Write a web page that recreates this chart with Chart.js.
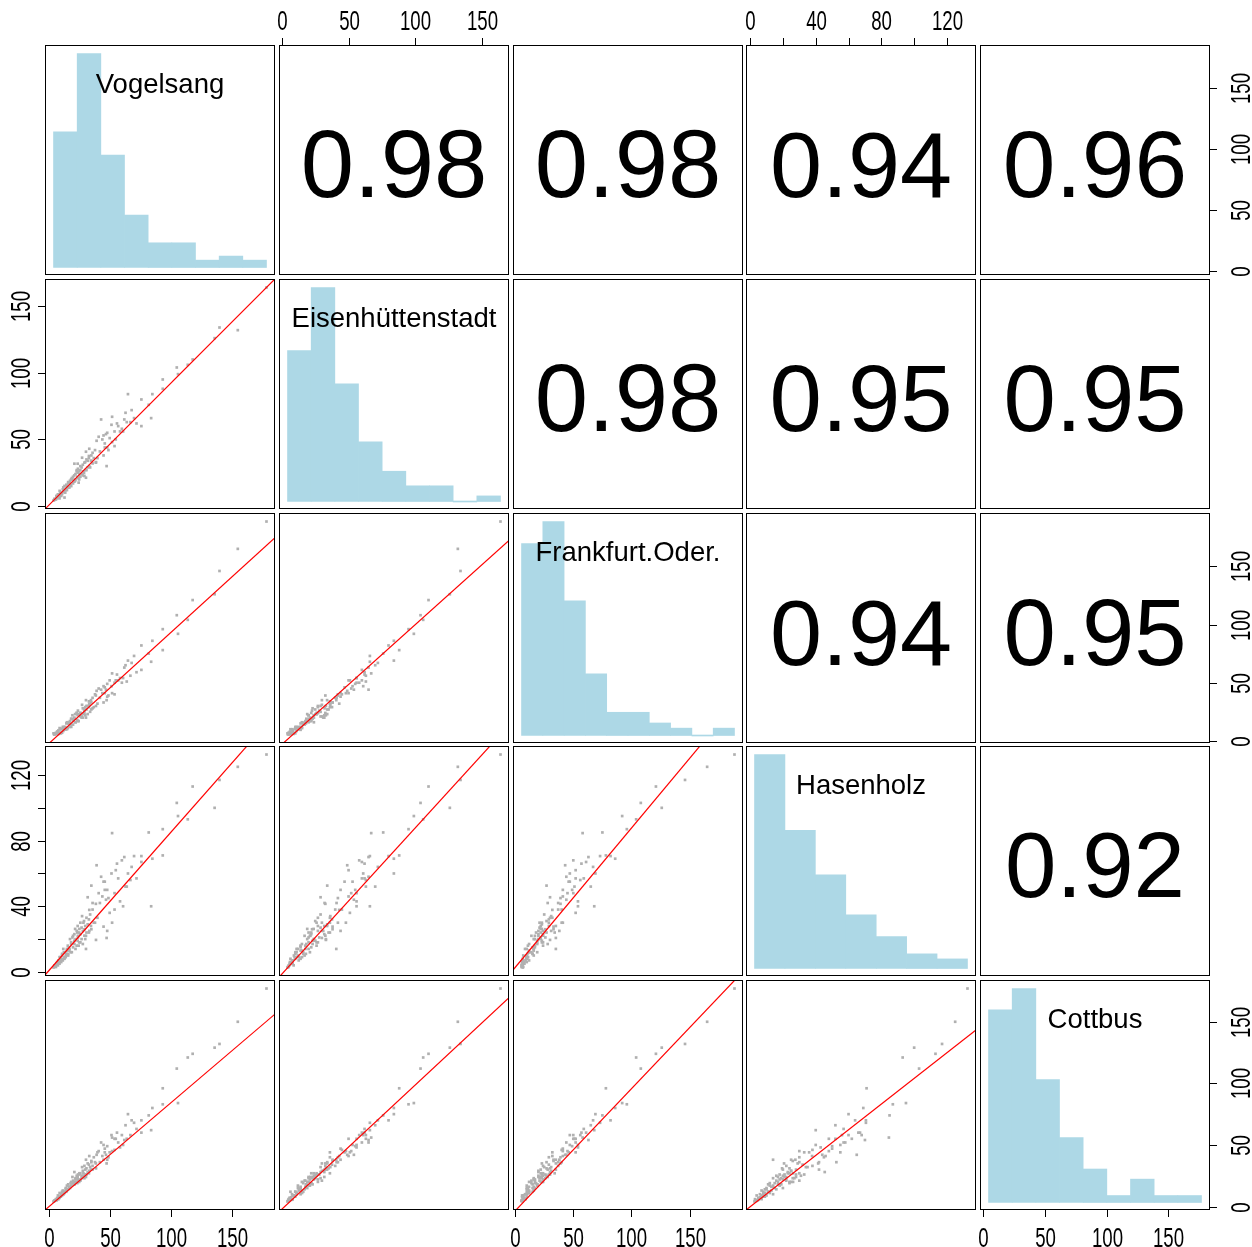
<!DOCTYPE html>
<html><head><meta charset="utf-8">
<script src="https://cdn.jsdelivr.net/npm/chart.js@4.4.1/dist/chart.umd.min.js"></script>
<style>
html,body{margin:0;padding:0;background:#fff;overflow:hidden;width:1252px;height:1247px;}
#wrap{position:relative;width:1252px;height:1247px;overflow:hidden;}
canvas{position:absolute;}
</style></head><body><div id="wrap"></div>
<script>
// ---------------- data ----------------
const variableNames = ["Vogelsang", "Eisenhüttenstadt", "Frankfurt.Oder.", "Hasenholz", "Cottbus"];

const vogelsang = [178.5,155,140,136,118,114,105,106,
  93.5,93.5,85,84,82,76,76,70,67,65,64,62,61,
  58.5,57,54,54,52,51.5,50,49,48,47.5,47,46,46,45,45,43,42,41,
  39.3,38.8,38.7,37,36,35,34.7,33.3,33.3,33,32,31,30.6,30.6,30,29.3,29.3,28.5,27.4,27,26,25.2,25,24.6,24,23.8,23.8,23.5,23,22,21.7,21.1,21.1,20,19.5,
  18.4,18,17.1,16.5,16,15.7,15,14,13.6,13,13,12,11.6,11,10.3,10,9,8.9,8,7.6,7,6.3,6,5,4.5,4,
  44,40,38,36,35,34,33,32,31,30,29,28,28,27,26,26,25,24,23,22,21,20,19,18.5,17.5,17,16,15,14.5,14,12.5,12,11,10,9.5,8.5,7.5,6.5,5.5,4.8,
  55,60,63,72,68,52,56,48];
const eisenhuettenstadt = [164,132,134,126,110,106,104,99,
  95,88,84,66,76,80,60,66,63,84,63,65,56,
  56,60,56,45,67,61,51,42,55,30,54,44,47,38,53,65,41,52,
  49,33,32.6,36,40,34,33.9,43,30,37.6,29,35,40.8,21.3,27,32.6,22.6,26,36.3,24,27,23.8,20,17.6,28,31.8,25.1,22,26,24,19,31.8,18.3,22,20,
  20,16,17.6,14,18,13.9,15,12,10.1,15.1,6.4,11,12.6,9,7.6,10,11.4,5.8,8,8.8,6,7.6,5,5.5,4.5,4.2,
  50,36,42,32,38,29,36,34,27,33,25,31,23,29,22,30,26,21,27,20,23,17,21,15,19,14,17,12,16,13,11,14,10,8,9.5,7,8,6,5,5.2,
  50,58,70,62,72,48,62,44];
const frankfurtOder = [188.5,165,146,126,121,104,108,92,
  96,78,86,68,75,82,61,73,56,69,51,63,54,
  54,52,50,40,58,47,52,39,49,35,44,41,46,33,47,44,37,45,
  43,30,39,29,37,27,35,32,31,29,30,27,35,20,29,24,26,23,31,20,24,22,22,17,26,22,23,18,24,16,23,20,19,17,22,
  19,14,16,15,15,11,16,10,12,11,10,8.5,12,7,10,6.5,11,7,9,6,8,6.5,7,6,5.5,6.5,
  41,32,40,28,33,25,34,23,30,22,27,20,28,21,24,21,23,17,24,16,19,14,19,12,17,12,16,10,15,10,12,9.5,10.5,7,10,6,8,5.8,6.5,5.6,
  52,50,65,59,67,41,57,38];
const hasenholz = [132.5,125,117,100,113,93,103,95,
  87,71,69,40,85,70.6,67,70.6,56,60,52,70,40,
  43,57,48,38,84.6,60,36,45,50,20.7,44,50,55,27.6,55,58,42,48,
  65,19.5,41.5,30,38,52.6,28,37.8,25,32,45.5,24,14,22,28,22.1,26,30,34,20,18,26.2,24,16,21,28,19,24,16,20,26.2,23,17,15,21,
  18,12,14,15,11,16,13,10,12,9,8,14,7,10,6,8,9,5,7,4,6,5,3,4,3,2.7,
  46,33,30,42,26,35,24,29,33,20,31,25,17,27,23,30,18,22,25,14,19,22,12,17,20,13,10,14,11,9,12,8,11,7,9,6,5,4.5,3.5,4,
  62,68,52,57,64,30,66,25];
const cottbus = [177,150,132,129,124,121,112,84,
  83,96,80,62,74,70,60,68,58,75,55,54,50,
  48,52,55,46,56,58,44,40,49,35,42,47,44,38,50,52,36,45,
  42,31,35,40,33,36,30,41,29,34,28,31,38,24,26,33,23,27,32,25,22,27,20,21,26,24,23,19,25,22,20,28,18,19,24,
  17,19,16,15,18,14,13,15,12,11,12,10,13,9,10,8,11,7,6,9,7,5.5,6,5,4.5,4.1,
  41,44,36,30,37,32,27,35,26,30,25,29,24,23,27,21,26,22,20,23,18,21,17,20,15,16,14,17,12,14,11,10,12,9,8,7.5,6,5,5.2,4.6,
  55,58,66,63,70,45,60,38];

// histogram bar heights (bins span each variable's range)
const histVogelsang = [36.8, 58, 30.5, 14.2, 6.7, 6.7, 2, 3.1, 2];
const histEisenhuettenstadt = [53.8, 76.3, 42, 21.3, 10.8, 5.6, 5.6, 0, 2];
const histFrankfurtOder = [52, 58, 36.5, 16.7, 6.3, 6.3, 3.4, 2, 0, 2];
const histHasenholz = [89, 57.5, 39, 22.3, 13.3, 6.1, 4];
const histCottbus = [55.2, 61.3, 35.2, 18.6, 9.6, 2, 6.7, 2, 2];

// correlations (upper panels), row by row
const corVogelsang = [0.98, 0.98, 0.94, 0.96];
const corEisenhuettenstadt = [0.98, 0.95, 0.95];
const corFrankfurtOder = [0.94, 0.95];
const corHasenholz = [0.92];

// fitted lines (lower panels): [intercept, slope] against each earlier variable
const fitEisenhuettenstadt = [[0.54, 0.916]];
const fitFrankfurtOder = [[-2.46, 0.955], [-3.0, 1.029]];
const fitHasenholz = [[0.63, 0.8435], [-1.27, 0.89], [2.7, 0.85]];
const fitCottbus = [[-0.3, 0.844], [-2.1, 1.007], [-3.57, 0.9925], [-0.23, 1.042]];

// axis ticks
const ticksVogelsang = [0, 50, 100, 150];
const ticksEisenhuettenstadt = [0, 50, 100, 150];
const ticksFrankfurtOder = [0, 50, 100, 150];
const ticksHasenholz = [0, 20, 40, 60, 80, 100, 120];
const ticksCottbus = [0, 50, 100, 150];
const tickLabelsVogelsang = ["0", "50", "100", "150"];
const tickLabelsEisenhuettenstadt = ["0", "50", "100", "150"];
const tickLabelsFrankfurtOder = ["0", "50", "100", "150"];
const tickLabelsHasenholz = ["0", "", "40", "", "80", "", "120"];
const tickLabelsCottbus = ["0", "50", "100", "150"];

// ---------------- assembly ----------------
const vars = [vogelsang, eisenhuettenstadt, frankfurtOder, hasenholz, cottbus];
const hists = [histVogelsang, histEisenhuettenstadt, histFrankfurtOder, histHasenholz, histCottbus];
const cors = [corVogelsang, corEisenhuettenstadt, corFrankfurtOder, corHasenholz, []];
const fits = [[], fitEisenhuettenstadt, fitFrankfurtOder, fitHasenholz, fitCottbus];
const ticks = [ticksVogelsang, ticksEisenhuettenstadt, ticksFrankfurtOder, ticksHasenholz, ticksCottbus];
const tickLabels = [tickLabelsVogelsang, tickLabelsEisenhuettenstadt, tickLabelsFrankfurtOder, tickLabelsHasenholz, tickLabelsCottbus];

const PAD = 50, SIZE = 230;
const panelPos = [45, 279, 513, 746, 980];
const FONT = '"Liberation Sans", Arial, sans-serif';
const N = Math.min(...vars.map(a => a.length));

const lims = vars.map(a => {
  const mn = Math.min(...a), mx = Math.max(...a), r = mx - mn;
  return {min: mn, max: mx, lo: mn - 0.04 * r, hi: mx + 0.04 * r};
});

function tickLabel(ctx, text, x, y, rotate) {
  ctx.save();
  ctx.translate(x, y);
  if (rotate) ctx.rotate(-Math.PI / 2);
  ctx.scale(0.69, 1);
  ctx.fillText(text, 0, 0);
  ctx.restore();
}

function makePlugin(i, j) {
  return {
    id: 'pairs' + i + j,
    afterDraw(chart) {
      const ctx = chart.ctx, a = chart.chartArea;
      const xs = chart.scales.x, ys = chart.scales.y;
      ctx.save();
      ctx.beginPath();
      ctx.strokeStyle = '#000';
      ctx.lineWidth = 1;
      ctx.strokeRect(a.left + 0.5, a.top + 0.5, a.right - a.left - 1, a.bottom - a.top - 1);
      const cx = (a.left + a.right) / 2, cy = (a.top + a.bottom) / 2;
      ctx.fillStyle = '#000';
      ctx.textAlign = 'center';
      ctx.textBaseline = 'alphabetic';
      if (i === j) {
        ctx.font = '27.5px ' + FONT;
        ctx.fillText(variableNames[i], cx, a.top + 48);
      } else if (j > i) {
        const r = cors[i][j - i - 1];
        const size = 40 + 57 * r;
        ctx.font = size + 'px ' + FONT;
        ctx.fillText(r.toFixed(2), cx, cy + 0.358 * size + 3);
      }
      // outer axes
      ctx.font = '27px ' + FONT;
      ctx.beginPath();
      const labels = [];
      if (i === 0 && j % 2 === 1) {
        ticks[j].forEach((v, k) => { const p = Math.round(xs.getPixelForValue(v)) + 0.5;
          ctx.moveTo(p, a.top); ctx.lineTo(p, a.top - 7); labels.push([tickLabels[j][k], p, a.top - 15, false]); });
      }
      if (i === 4 && j % 2 === 0) {
        ticks[j].forEach((v, k) => { const p = Math.round(xs.getPixelForValue(v)) + 0.5;
          ctx.moveTo(p, a.bottom); ctx.lineTo(p, a.bottom + 7); labels.push([tickLabels[j][k], p, a.bottom + 37, false]); });
      }
      if (j === 0 && i % 2 === 1) {
        ticks[i].forEach((v, k) => { const p = Math.round(ys.getPixelForValue(v)) + 0.5;
          ctx.moveTo(a.left, p); ctx.lineTo(a.left - 7, p); labels.push([tickLabels[i][k], a.left - 15, p, true]); });
      }
      if (j === 4 && i % 2 === 0) {
        ticks[i].forEach((v, k) => { const p = Math.round(ys.getPixelForValue(v)) + 0.5;
          ctx.moveTo(a.right, p); ctx.lineTo(a.right + 7, p); labels.push([tickLabels[i][k], a.right + 40, p, true]); });
      }
      ctx.stroke();
      labels.forEach(l => { if (l[0]) tickLabel(ctx, l[0], l[1], l[2], l[3]); });
      ctx.restore();
    }
  };
}

const wrap = document.getElementById('wrap');
for (let i = 0; i < 5; i++) {
  for (let j = 0; j < 5; j++) {
    const cv = document.createElement('canvas');
    cv.width = SIZE + 2 * PAD; cv.height = SIZE + 2 * PAD;
    cv.style.left = (panelPos[j] - PAD) + 'px';
    cv.style.top = (panelPos[i] - PAD) + 'px';
    cv.style.width = cv.width + 'px'; cv.style.height = cv.height + 'px';
    wrap.appendChild(cv);

    const scales = {
      x: {type: 'linear', min: lims[j].lo, max: lims[j].hi, display: false, offset: false},
      y: {type: 'linear', min: lims[i].lo, max: lims[i].hi, display: false}
    };
    const datasets = [];
    if (i === j) {
      const h = hists[i];
      const n = h.length, w = (lims[i].max - lims[i].min) / n;
      const hmax = Math.max(...h);
      scales.yh = {type: 'linear', min: -0.035 * hmax, max: 1.04 * hmax, display: false};
      datasets.push({
        type: 'bar', xAxisID: 'x', yAxisID: 'yh',
        data: h.map((c, k) => ({x: lims[i].min + (k + 0.5) * w, y: c})),
        backgroundColor: '#ADD8E6', borderWidth: 0, minBarLength: 1,
        barPercentage: 1, categoryPercentage: 1, grouped: false
      });
    } else if (i > j) {
      const [b0, b1] = fits[i][j];
      datasets.push({
        type: 'line', order: 0,
        data: [{x: lims[j].lo, y: b0 + b1 * lims[j].lo}, {x: lims[j].hi, y: b0 + b1 * lims[j].hi}],
        borderColor: 'rgb(255,0,0)', backgroundColor: 'rgb(255,0,0)', borderWidth: 1.2,
        pointRadius: 0, fill: false, tension: 0
      });
      const pts = [];
      for (let k = 0; k < N; k++) pts.push({x: vars[j][k], y: vars[i][k]});
      datasets.push({
        type: 'scatter', order: 1,
        data: pts,
        pointRadius: 1.9, pointBackgroundColor: '#B0B0B0', pointBorderWidth: 0, borderWidth: 0,
        pointStyle: 'rect'
      });
    }
    new Chart(cv, {
      type: 'scatter',
      data: {datasets},
      options: {
        responsive: false, animation: false, devicePixelRatio: 1, events: [],
        layout: {padding: PAD},
        plugins: {legend: {display: false}, tooltip: {enabled: false}},
        scales
      },
      plugins: [makePlugin(i, j)]
    });
  }
}
</script>
</body></html>
